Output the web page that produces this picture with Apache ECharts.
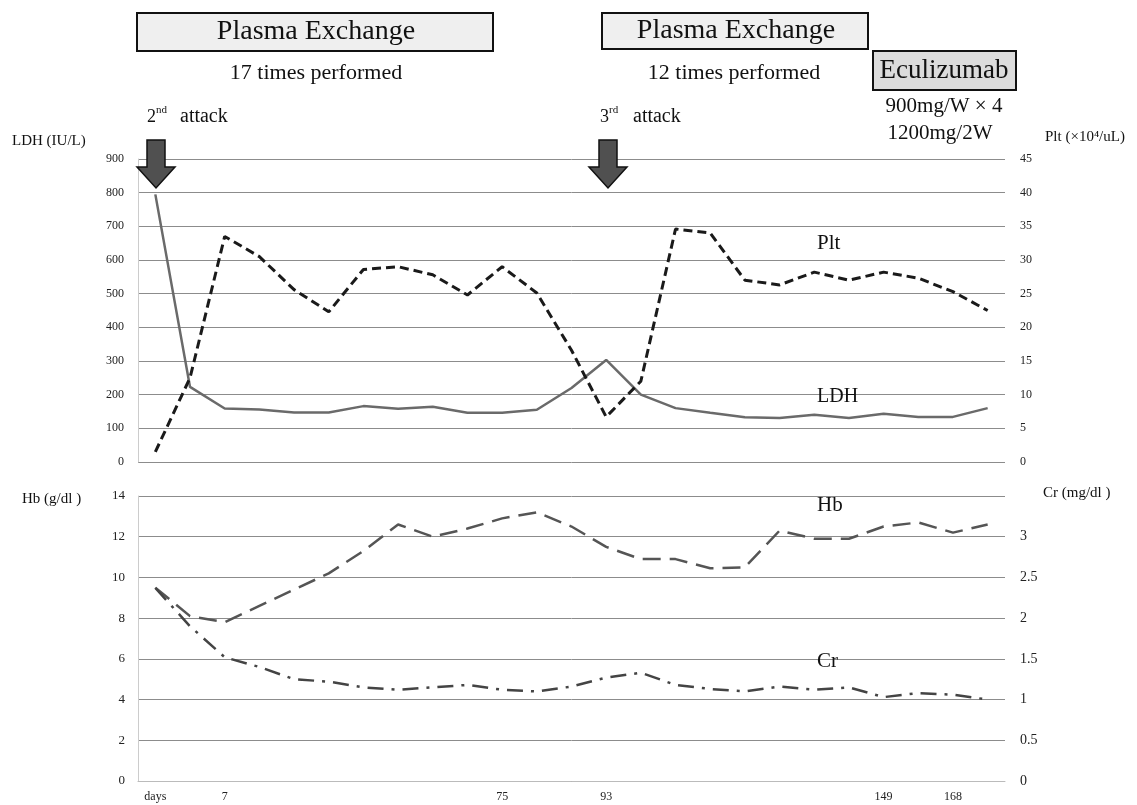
<!DOCTYPE html>
<html>
<head>
<meta charset="utf-8">
<script src="https://cdn.jsdelivr.net/npm/echarts@6/dist/echarts.min.js"></script>
<style>
html,body{margin:0;padding:0;background:#fff;}
#chart{width:1137px;height:805px;}
</style>
</head>
<body>
<div id="chart"></div>
<script>
// ---- data ----
const dayLabels = ['days','','7','','','','','','','','75','','','93','','','','','','','','149','','168',''];
const ldh = [795,223,159,156,147,147,166,158,164,146,146,155,220,303,200,160,146,133,131,140,131,143,134,134,160];
const plt = [1.5,12.5,33.5,30.5,25.6,22.3,28.6,29,27.8,24.8,29,25.1,16.6,6.7,12,34.6,34,27,26.3,28.2,27,28.2,27.3,25.3,22.5];
const hb  = [9.5,8.1,7.8,8.6,9.4,10.2,11.3,12.6,12.0,12.4,12.9,13.2,12.5,11.5,10.9,10.9,10.45,10.5,12.3,11.9,11.9,12.5,12.7,12.2,12.6];
const cr  = [2.37,1.9,1.52,1.40,1.25,1.22,1.15,1.12,1.15,1.18,1.12,1.10,1.16,1.27,1.33,1.18,1.13,1.10,1.16,1.12,1.15,1.03,1.08,1.06,1.0];

const SERIF = "'Liberation Serif','DejaVu Serif',serif";
const chart = echarts.init(document.getElementById('chart'), null, {renderer:'canvas'});

function txt(x, y, text, size, align, extra) {
  return Object.assign({
    type:'text', x:x, y:y, z:100,
    style:{text:text, fontSize:size, fontFamily:SERIF, fill:'#111', align:align||'center', verticalAlign:'middle'}
  }, extra||{});
}
function arrow(cx) {
  return {
    type:'polygon', z:100,
    shape:{points:[[cx-9,140],[cx+9,140],[cx+9,167],[cx+19,167],[cx,188],[cx-19,167],[cx-9,167]]},
    style:{fill:'#505050', stroke:'#111', lineWidth:1.5}
  };
}

const gridLine = {show:true, lineStyle:{color:'#8c8c8c', width:1}};
const option = {
  animation:false,
  backgroundColor:'#fff',
  grid:[
    {left:138, right:132, top:159, height:303},
    {left:138, right:132, top:496, height:285}
  ],
  xAxis:[
    {type:'category', gridIndex:0, data:dayLabels, boundaryGap:true,
     axisLine:{show:false}, axisTick:{show:false}, axisLabel:{show:false}},
    {type:'category', gridIndex:1, data:dayLabels, boundaryGap:true,
     axisLine:{show:true, lineStyle:{color:'#bbb'}}, axisTick:{show:false},
     axisLabel:{interval:0, fontSize:12, fontFamily:SERIF, color:'#222', margin:10}}
  ],
  yAxis:[
    {type:'value', gridIndex:0, min:0, max:900, interval:100, position:'left',
     axisLine:{show:true, lineStyle:{color:'#ccc'}}, axisTick:{show:false},
     axisLabel:{fontSize:12, fontFamily:SERIF, color:'#222', margin:14},
     splitLine:gridLine},
    {type:'value', gridIndex:0, min:0, max:45, interval:5, position:'right',
     axisLine:{show:false}, axisTick:{show:false},
     axisLabel:{fontSize:12, fontFamily:SERIF, color:'#222', margin:15},
     splitLine:{show:false}},
    {type:'value', gridIndex:1, min:0, max:14, interval:2, position:'left',
     axisLine:{show:true, lineStyle:{color:'#ccc'}}, axisTick:{show:false},
     axisLabel:{fontSize:13, fontFamily:SERIF, color:'#222', margin:13},
     splitLine:gridLine},
    {type:'value', gridIndex:1, min:0, max:3.5, interval:0.5, position:'right',
     axisLine:{show:false}, axisTick:{show:false},
     axisLabel:{fontSize:14, fontFamily:SERIF, color:'#222', margin:15,
       formatter:function(v){ return v >= 3.5 ? '' : String(v); }},
     splitLine:{show:false}}
  ],
  series:[
    {name:'LDH', type:'line', xAxisIndex:0, yAxisIndex:0, data:ldh, symbol:'none',
     lineStyle:{color:'#6a6a6a', width:2.5}},
    {name:'Plt', type:'line', xAxisIndex:0, yAxisIndex:1, data:plt, symbol:'none',
     lineStyle:{color:'#1a1a1a', width:3, type:[9,5]}},
    {name:'Hb', type:'line', xAxisIndex:1, yAxisIndex:2, data:hb, symbol:'none',
     lineStyle:{color:'#555', width:2.5, type:[18,9]}},
    {name:'Cr', type:'line', xAxisIndex:1, yAxisIndex:3, data:cr, symbol:'none',
     lineStyle:{color:'#444', width:2.5, type:[16,8,3,8]}}
  ],
  graphic:[
    {type:'rect', z:90, shape:{x:137, y:13, width:356, height:38}, style:{fill:'#efefef', stroke:'#111', lineWidth:2}},
    txt(316, 32, 'Plasma Exchange', 28),
    txt(316, 73, '17 times performed', 22),
    {type:'rect', z:90, shape:{x:602, y:13, width:266, height:36}, style:{fill:'#efefef', stroke:'#111', lineWidth:2}},
    txt(736, 31, 'Plasma Exchange', 28),
    txt(734, 73, '12 times performed', 22),
    {type:'rect', z:90, shape:{x:873, y:51, width:143, height:39}, style:{fill:'#dcdcdc', stroke:'#111', lineWidth:2}},
    txt(944, 71, 'Eculizumab', 27),
    txt(944, 106, '900mg/W × 4', 21),
    txt(940, 133, '1200mg/2W', 21),
    txt(147, 117, '2', 18, 'left'),
    txt(156, 110, 'nd', 11, 'left'),
    txt(180, 117, 'attack', 20, 'left'),
    txt(600, 117, '3', 18, 'left'),
    txt(609, 110, 'rd', 11, 'left'),
    txt(633, 117, 'attack', 20, 'left'),
    arrow(156),
    arrow(608),
    txt(12, 141, 'LDH (IU/L)', 15, 'left'),
    txt(1045, 137, 'Plt (×10⁴/uL)', 15, 'left'),
    txt(22, 499, 'Hb (g/dl )', 15, 'left'),
    txt(1043, 493, 'Cr (mg/dl )', 15, 'left'),
    txt(817, 243, 'Plt', 21, 'left'),
    txt(817, 397, 'LDH', 20, 'left'),
    txt(817, 505, 'Hb', 21, 'left'),
    txt(817, 661, 'Cr', 21, 'left')
  ]
};
chart.setOption(option);
</script>
</body>
</html>
